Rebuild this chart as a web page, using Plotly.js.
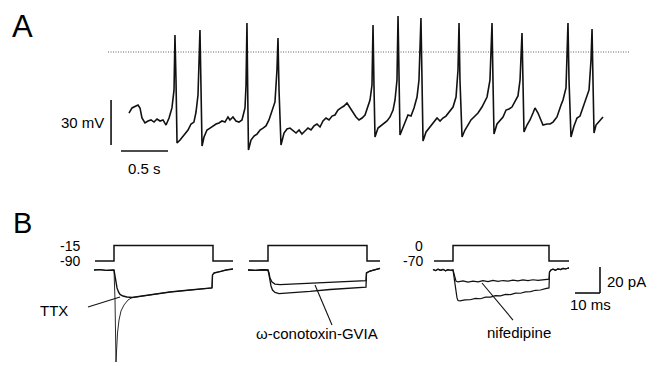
<!DOCTYPE html>
<html>
<head>
<meta charset="utf-8">
<script src="https://cdn.plot.ly/plotly-3.0.1.min.js"></script>
<style>html,body{margin:0;padding:0;background:#fff;}#chart{width:647px;height:365px;}</style>
</head>
<body>
<div id="chart"></div>
<script>
// ---------- Panel A: spontaneous firing (time in s, membrane potential in mV) ----------
const trainTime = [0,0.032,0.074,0.096,0.117,0.138,0.170,0.202,0.234,0.266,0.298,0.330,0.362,0.394,0.426,0.457,0.479,0.489,0.500,0.511,
0.543,0.574,0.606,0.628,0.660,0.691,0.713,0.734,0.755,0.766,0.777,0.798,0.830,0.862,0.894,0.926,0.957,0.989,1.021,1.053,
1.074,1.106,1.138,1.170,1.202,1.234,1.245,1.255,1.264,1.271,1.298,1.330,1.362,1.394,1.426,1.457,1.489,1.521,1.553,1.574,
1.585,1.596,1.617,1.649,1.681,1.713,1.745,1.777,1.809,1.840,1.872,1.904,1.936,1.968,2.000,2.032,2.064,2.096,2.128,2.160,
2.191,2.223,2.255,2.287,2.319,2.351,2.383,2.415,2.447,2.479,2.511,2.543,2.564,2.585,2.596,2.606,2.617,2.649,2.681,2.713,
2.745,2.777,2.809,2.830,2.851,2.862,2.872,2.883,2.904,2.936,2.968,3.000,3.032,3.064,3.085,3.106,3.117,3.128,3.160,3.202,
3.234,3.277,3.309,3.340,3.372,3.404,3.447,3.479,3.500,3.511,3.521,3.543,3.574,3.606,3.638,3.670,3.713,3.755,3.787,3.809,
3.840,3.862,3.872,3.883,3.915,3.947,3.979,4.011,4.043,4.074,4.106,4.138,4.160,4.181,4.191,4.202,4.234,4.266,4.298,4.319,
4.351,4.383,4.404,4.447,4.479,4.511,4.553,4.596,4.617,4.649,4.660,4.670,4.681,4.702,4.734,4.766,4.798,4.830,4.862,4.894,
4.915,4.926,4.936,4.947,4.968,4.989,5.011,5.043];
const trainMv = [-40.7,-37.3,-36,-35.3,-37.3,-44,-47.3,-46,-45.3,-46.7,-44.7,-46,-45.3,-48.7,-44,-37.3,-25.3,11.3,-18.7,-60.7,
-58.7,-56,-54,-52,-48,-46.7,-40,-28.7,14.7,-25.3,-62.7,-56.7,-52,-50.7,-49.3,-48,-47.3,-46,-46.7,-43.3,
-45.3,-43.3,-46,-46.7,-45.3,-37.3,-22,19.3,-32,-65.3,-58.7,-56,-54.7,-52,-50.7,-49.3,-45.3,-40,-33.3,-12,
9.3,-25.3,-62,-54,-51.3,-50.7,-52.7,-54,-52,-54.7,-52.7,-50.7,-52,-49.3,-48,-50,-46,-44,-45.3,-42.7,
-42,-38.7,-37.3,-36,-34,-37.3,-40.7,-43.3,-45.3,-44,-42,-36.7,-32,-22,18,-22,-56.7,-50.7,-49.3,-48,
-46,-43.3,-38.7,-32,-18.7,24,-18.7,-55.3,-52,-46.7,-42,-42.7,-37.3,-30,-18.7,22.7,-18.7,-59.3,-53.3,-50,
-48,-44,-46,-44,-42.7,-40,-36.7,-30,-12,19.3,-18.7,-56.7,-52,-48.7,-45.3,-43.3,-40.7,-36.7,-33.3,-30,
-18.7,19.3,-18.7,-54.7,-48,-45.3,-43.3,-38.7,-38,-36.7,-33.3,-29.3,-18.7,12.7,-18.7,-53.3,-48.7,-45.3,-40.7,-37.3,
-40.7,-46,-48.7,-48,-48,-46.7,-43.3,-35.3,-32,-24,-5.3,19.3,-18.7,-56.7,-49.3,-44,-42.7,-37.3,-32,-25.3,
-5.3,15.3,-18.7,-54,-48.7,-47.3,-45.3,-43.3];
const zeroLineTime = [-0.223, 5.319];
const zeroLineMv = [0, 0];
const barA_mvTime = [-0.191, -0.191];
const barA_mvValues = [-32, -62];      // 30 mV
const barA_sTime = [-0.085, 0.415];     // 0.5 s
const barA_sValues = [-66, -66];

// ---------- Panel B: Ca currents (time in ms from step onset, current in pA) ----------
// command steps (0 = holding, 1 = test potential)
const stepLevel = [0, 0, 1, 1, 0, 0];
const step1Time = [-7.6, 0, 0, 39.6, 39.6, 47.6];
const step2Time = [-7.6, 0, 0, 39.6, 39.6, 44.8];
const step3Time = [-7.6, 0, 0, 38.4, 38.4, 46.4];
const step1Labels = ["-15", "-90"];
const step3Labels = ["0", "-70"];

// B1: control vs TTX
const b1CtrlTime = [-8,-5.6,-3.2,-0.8,0,0.4,0.64,0.8,1.04,1.4,2,2.8,4,5.6,7.2,14.4,22.4,30.4,39.2,39.4,40,42.4,44.8,47.6];
const b1Ctrl = [0,0.3,-0.3,0.2,0,-23.1,-57.7,-70.8,-61.5,-48.5,-38.5,-31.5,-26.9,-23.1,-21.2,-19.2,-16.9,-15.4,-13.8,-3.8,-2.3,-1.2,0,0.8];
const b1TtxTime = [-8,-5.6,-3.2,-0.8,0,0.4,0.8,1.2,1.8,2.4,3.6,5.2,7.2,14.4,22.4,30.4,39.2,39.4,40,42.4,44.8,47.6];
const b1Ttx = [0,0.3,-0.3,0.2,0,-4.6,-10,-13.8,-16.9,-18.8,-20,-20.8,-21.2,-19.2,-16.9,-15.4,-13.8,-3.8,-2.3,-1.2,0,0.8];

// B2: control vs omega-conotoxin-GVIA
const b2CtxTime = [-8,-5,-2,0,0.4,0.8,1.6,2.8,4.8,12.8,20.8,30.8,39.2,39.4,40.8,44.8];
const b2Ctx = [0,-0.3,0.2,0,-2.3,-6.2,-9.2,-10.8,-11.2,-10.4,-9.6,-8.8,-8.1,-2.3,-0.8,1.2];
const b2CtrlTime = [-8,-5,-2,0,0.4,0.8,1.2,1.8,2.8,4.4,8.8,16.8,24.8,32.8,39.2,39.4,40.8,44.8];
const b2Ctrl = [0,-0.3,0.2,0,-3.8,-8.5,-12.3,-15.4,-17.3,-18.1,-17.7,-16.5,-15,-13.8,-13.1,-2.3,-0.8,1.2];

// B3: control vs nifedipine
const b3NifTime = [-8,-7,-6,-5,-4,-3,-2,-1,0,0.4,0.8,1.2,2,4,6,8,10,12,14,16,18,20,22,24,26,28,30,32,34,36,38.4,38.6,39.2,40,41,42,43,44,45,46.4];
const b3Nif = [0.4,-0.5,0.6,-0.3,0.5,-0.6,0.3,-0.2,0,-3.1,-6.2,-8.5,-9.2,-8.4,-9.3,-8.6,-9.1,-8.2,-8.9,-8.0,-8.7,-8.1,-8.6,-7.8,-8.4,-7.6,-8.2,-7.5,-8.0,-7.3,-7.0,-1.5,0,0.6,-0.2,0.9,0.3,1.2,0.8,1.6];
const b3CtrlTime = [-8,-7,-6,-5,-4,-3,-2,-1,0,0.4,0.8,1.2,1.6,2,2.8,4.8,6.8,9,11,13,15,17,19,21,23,25,27,29,31,33,35,37,38.4,38.6,39.2,40,41,42,43,44,45,46.4];
const b3Ctrl = [0.4,-0.5,0.6,-0.3,0.5,-0.6,0.3,-0.2,0,-6.2,-12.3,-17.7,-21.5,-23.5,-23.8,-23.0,-22.9,-21.8,-22.1,-20.9,-20.8,-19.7,-19.9,-18.8,-18.9,-17.8,-17.9,-16.8,-16.6,-15.6,-15.4,-14.3,-13.8,-1.5,0,0.6,-0.2,0.9,0.3,1.2,0.8,1.6];

// label pointer lines
const ttxPtrTime = [-10.4, 2.4];     const ttxPtrI = [-28.5, -20.8];
const ctxPtrTime = [18.8, 25.6];     const ctxPtrI = [-11.5, -42.3];
const nifPtrTime = [11.6, 24.0];     const nifPtrI = [-10, -38.5];

// scale bars for B (on B3 time axis)
const barB_msTime = [48.8, 58.8];    const barB_msI = [-17.7, -17.7];   // 10 ms
const barB_pATime = [58.8, 58.8];    const barB_pAI = [-17.7, 2.3];     // 20 pA

const K = '#111';
function ln(x, y, xa, ya, w, extra) {
  return Object.assign({x: x, y: y, xaxis: xa, yaxis: ya, type: 'scatter', mode: 'lines',
    line: {color: K, width: w}, hoverinfo: 'skip'}, extra || {});
}

const traces = [
  ln(zeroLineTime, zeroLineMv, 'x', 'y', 0.8, {line: {color: '#333', width: 0.8, dash: '1px,1.5px'}}),
  ln(trainTime, trainMv, 'x', 'y', 1.6),
  ln(barA_mvTime, barA_mvValues, 'x', 'y', 1.6),
  ln(barA_sTime, barA_sValues, 'x', 'y', 1.6),

  ln(step1Time, stepLevel, 'x2', 'y3', 1.5),
  ln(step2Time, stepLevel, 'x3', 'y3', 1.5),
  ln(step3Time, stepLevel, 'x4', 'y3', 1.5),

  ln(b1TtxTime, b1Ttx, 'x2', 'y2', 1.4),
  ln(b1CtrlTime, b1Ctrl, 'x2', 'y2', 0.9),
  ln(b2CtxTime, b2Ctx, 'x3', 'y2', 1.3),
  ln(b2CtrlTime, b2Ctrl, 'x3', 'y2', 1.3),
  ln(b3NifTime, b3Nif, 'x4', 'y2', 1.2),
  ln(b3CtrlTime, b3Ctrl, 'x4', 'y2', 1.2),

  ln(ttxPtrTime, ttxPtrI, 'x2', 'y2', 1.1),
  ln(ctxPtrTime, ctxPtrI, 'x3', 'y2', 1.1),
  ln(nifPtrTime, nifPtrI, 'x4', 'y2', 1.1),
  ln(barB_msTime, barB_msI, 'x4', 'y2', 1.6),
  ln(barB_pATime, barB_pAI, 'x4', 'y2', 1.6)
];

const F = 'Liberation Sans, Arial, sans-serif';
function txt(text, x, y, xref, yref, xanchor, size, extra) {
  return Object.assign({text: text, x: x, y: y, xref: xref, yref: yref, xanchor: xanchor, yanchor: 'middle',
    showarrow: false, font: {family: F, size: size, color: '#000'}}, extra || {});
}

const annotations = [
  txt('A', 10 / 647, 1 - 26 / 365, 'paper', 'paper', 'left', 31),
  txt('B', 11 / 647, 1 - 223 / 365, 'paper', 'paper', 'left', 29),
  txt('30 mV', -0.191, -47, 'x', 'y', 'right', 15, {xshift: -5}),
  txt('0.5 s', 0.165, -77.5, 'x', 'y', 'center', 15),
  txt(step1Labels[0], -12.9, 1, 'x2', 'y3', 'right', 14),
  txt(step1Labels[1], -12.9, 0, 'x2', 'y3', 'right', 14),
  txt(step3Labels[0], -11.2, 1, 'x4', 'y3', 'right', 14),
  txt(step3Labels[1], -11.2, 0, 'x4', 'y3', 'right', 14),
  txt('TTX', -24, -30.8, 'x2', 'y2', 'center', 15),
  txt('ω-conotoxin-GVIA', 19.6, -48.5, 'x3', 'y2', 'center', 15),
  txt('nifedipine', 26.4, -47.7, 'x4', 'y2', 'center', 15),
  txt('20 pA', 60.6, -8.5, 'x4', 'y2', 'left', 15),
  txt('10 ms', 54.8, -26.4, 'x4', 'y2', 'center', 15)
];

const hid = {visible: false, fixedrange: true, domain: [0, 1]};
const layout = {
  width: 647, height: 365,
  margin: {l: 0, r: 0, t: 0, b: 0, pad: 0},
  paper_bgcolor: '#fff', plot_bgcolor: 'rgba(0,0,0,0)',
  showlegend: false,
  xaxis: Object.assign({range: [-129 / 94, 518 / 94]}, hid),
  yaxis: Object.assign({range: [-313 / 1.5, 52 / 1.5]}, hid),
  xaxis2: Object.assign({range: [-45.6, 213.2], overlaying: 'x'}, hid),
  xaxis3: Object.assign({range: [-107.2, 151.6], overlaying: 'x'}, hid),
  xaxis4: Object.assign({range: [-181.2, 77.6], overlaying: 'x'}, hid),
  yaxis2: Object.assign({range: [-95 / 1.3, 270 / 1.3], overlaying: 'y'}, hid),
  yaxis3: Object.assign({range: [-104 / 15.5, 261 / 15.5], overlaying: 'y'}, hid),
  annotations: annotations
};

Plotly.newPlot('chart', traces, layout, {displayModeBar: false, staticPlot: true});
</script>
</body>
</html>
